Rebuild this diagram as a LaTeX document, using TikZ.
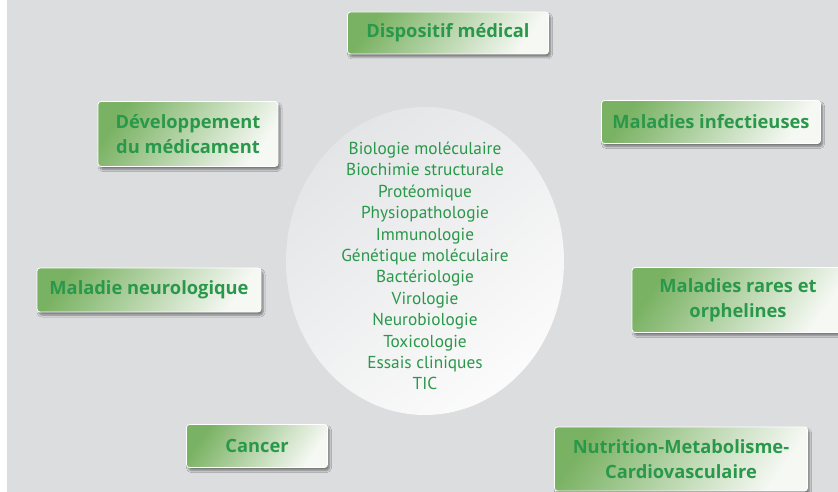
\documentclass[tikz,border=0pt]{standalone}
\usepackage{fontspec}
\setmainfont{PT Sans}
\newfontfamily\boxfont{Open Sans}
\usetikzlibrary{shadows.blur}
\definecolor{txtgreen}{HTML}{2A984A}
\definecolor{boxdark}{HTML}{7AB263}
\definecolor{boxlight}{HTML}{F5F8F3}
\definecolor{bggray}{HTML}{DCDDDF}
\definecolor{discgray}{HTML}{E4E5E7}

\begin{document}
\begin{tikzpicture}[x=1pt,y=-1pt,
            theme box/.style={rectangle,rounded corners=3pt,draw=white,line width=0.8pt,
              top color=boxdark,bottom color=boxlight,shading angle=55,
              blur shadow={shadow xshift=2pt,shadow yshift=-3pt,shadow blur steps=6,shadow opacity=45},
              text=txtgreen,font=\boxfont\fontsize{18.3}{24.5}\selectfont\bfseries,align=center,inner sep=0pt},
            ]
            \useasboundingbox (0,0) rectangle (838,492);
            \fill[bggray] (7,0) rectangle (838,492);

            % central disc
            \shade[top color=discgray,bottom color=white!97!gray,shading angle=40] (425,261) ellipse [x radius=139,y radius=154];
            \node[text=txtgreen,font=\fontsize{17.3}{21.4}\selectfont,align=center] (core) at (425,266) {Biologie moléculaire\\Biochimie structurale\\Protéomique\\Physiopathologie\\Immunologie\\Génétique moléculaire\\Bactériologie\\Virologie\\Neurobiologie\\Toxicologie\\Essais cliniques\\TIC};

            \node[theme box,minimum width=201,minimum height=42] (disp) at (448,33) {Dispositif médical};
            \node[theme box,minimum width=180,minimum height=65] (dev) at (188,134) {Développement\\du médicament};
            \node[theme box,minimum width=219,minimum height=43] (infect) at (711,122) {Maladies infectieuses};
            \node[theme box,minimum width=224,minimum height=44] (neuro) at (149,290) {Maladie neurologique};
            \node[theme box,minimum width=212,minimum height=65] (rares) at (738,300) {Maladies rares et\\orphelines};
            \node[theme box,minimum width=141,minimum height=43] (cancer) at (257,446) {Cancer};
            \node[theme box,minimum width=253,minimum height=64] (nutri) at (681,459) {Nutrition-Metabolisme-\\Cardiovasculaire};
        \end{tikzpicture}
\end{document}
